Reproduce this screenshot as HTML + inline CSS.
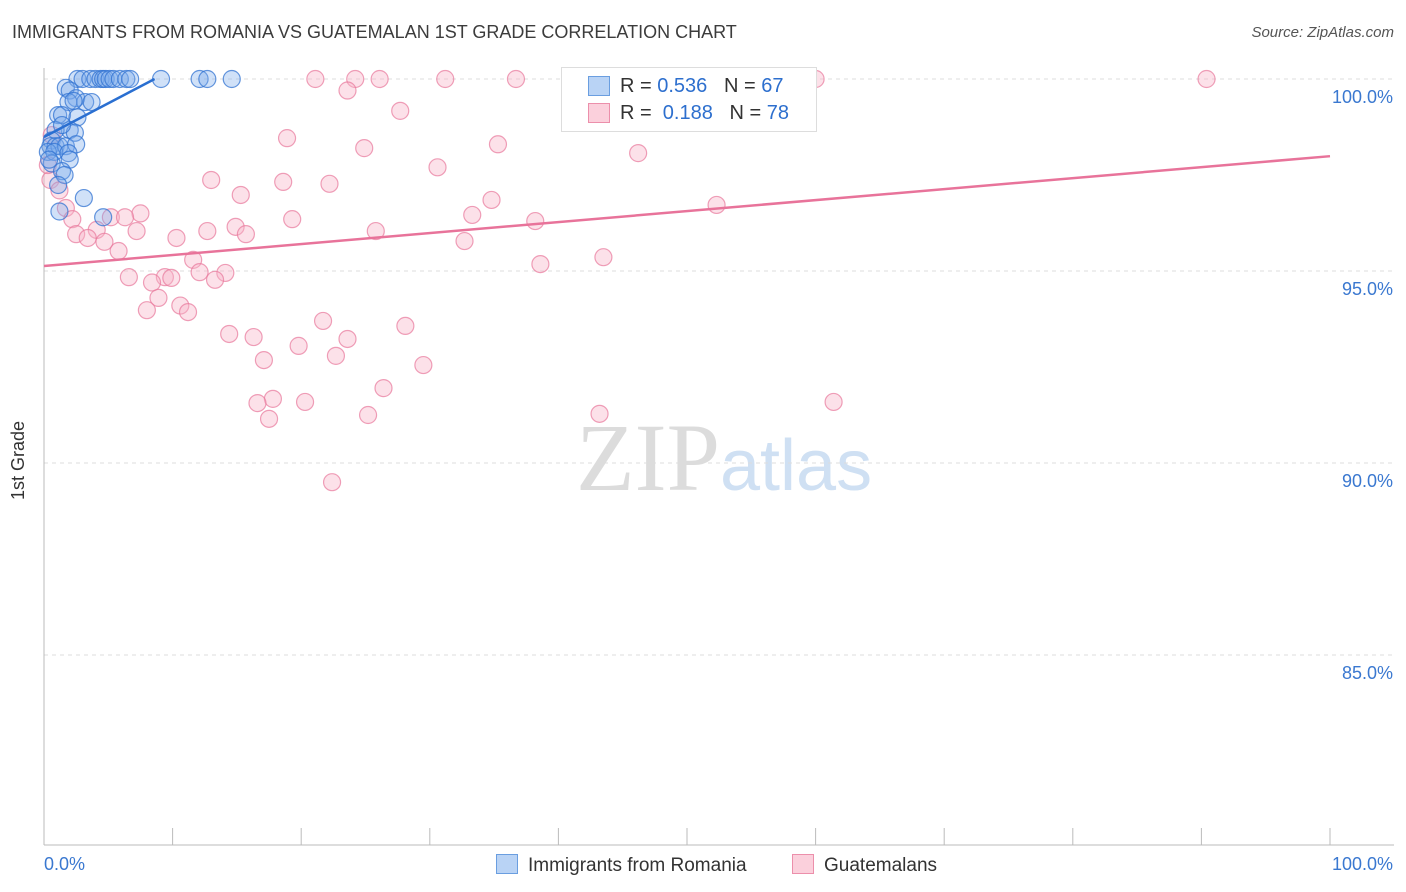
<!DOCTYPE html>
<html><head><meta charset="utf-8"><style>
body{margin:0;background:#fff;font-family:"Liberation Sans",sans-serif;}
#c{position:relative;width:1406px;height:892px;overflow:hidden}
.t{position:absolute;white-space:nowrap}
</style></head><body><div id="c">
<div class="t" style="left:12px;top:22px;font-size:18px;color:#3c3c3c">IMMIGRANTS FROM ROMANIA VS GUATEMALAN 1ST GRADE CORRELATION CHART</div>
<div class="t" style="right:12px;top:24px;font-size:15px;color:#555;font-style:italic">Source: ZipAtlas.com</div>
<div class="t" style="left:8px;top:455px;font-size:18px;color:#333;transform:rotate(-90deg);transform-origin:left top;top:500px">1st Grade</div>
<svg id="s" width="1406" height="892" style="position:absolute;left:0;top:0">
<text x="720" y="490" font-size="96" font-family="Liberation Serif" fill="#dcdcdc" text-anchor="end">ZIP</text>
<text x="720" y="490" font-size="72" font-family="Liberation Sans" fill="#cfe0f3">atlas</text>
</svg>
<div class="t" style="left:561px;top:67px;width:254px;height:63px;border:1px solid #ddd;background:#fff">
<div style="position:absolute;left:26px;top:8px;width:20px;height:18px;background:#b9d3f5;border:1px solid #6a9ee0"></div>
<div class="t" style="left:58px;top:7px;font-size:20px;color:#333">R = <span style="color:#2d6fce">0.536</span>&nbsp;&nbsp;&nbsp;N = <span style="color:#2d6fce">67</span></div>
<div style="position:absolute;left:26px;top:35px;width:20px;height:18px;background:#fbd0dc;border:1px solid #ec8fab"></div>
<div class="t" style="left:58px;top:34px;font-size:20px;color:#333">R = &nbsp;<span style="color:#2d6fce">0.188</span>&nbsp;&nbsp;&nbsp;N = <span style="color:#2d6fce">78</span></div>
</div>
<div class="t" style="left:496px;top:854px;font-size:19px;color:#333"><span style="display:inline-block;width:20px;height:18px;background:#b9d3f5;border:1px solid #6a9ee0;vertical-align:-3px;margin-right:10px"></span>Immigrants from Romania</div>
<div class="t" style="left:792px;top:854px;font-size:19px;color:#333"><span style="display:inline-block;width:20px;height:18px;background:#fbd0dc;border:1px solid #ec8fab;vertical-align:-3px;margin-right:10px"></span>Guatemalans</div>
</div>
<script>
const yTicks=[100,95,90,85];
const yTickLabels=["100.0%","95.0%","90.0%","85.0%"];
const xTickLabels=["0.0%","100.0%"];
const blueX=[2.6,3.0,3.6,4.0,4.4,4.6,4.8,5.1,5.4,5.9,6.4,6.7,9.1,12.1,12.7,14.6,1.7,2.0,2.5,3.2,3.7,1.9,2.3,1.1,1.4,2.6,2.0,2.4,0.9,1.4,0.6,0.5,0.9,1.2,1.7,2.5,0.3,0.8,1.9,2.0,0.6,1.4,1.6,1.1,3.1,1.2,4.6,0.4];
const blueY=[100,100,100,100,100,100,100,100,100,100,100,100,100,100,100,100,99.77,99.7,99.5,99.4,99.4,99.4,99.43,99.06,99.06,99.0,98.67,98.6,98.67,98.8,98.4,98.25,98.25,98.25,98.25,98.3,98.1,98.1,98.07,97.9,97.8,97.6,97.5,97.24,96.9,96.55,96.4,97.9];
const pinkX=[21.1,24.2,26.1,31.2,36.7,58.8,60.0,90.4,23.6,27.7,18.9,35.3,24.9,46.2,30.6,13.0,18.6,22.2,15.3,34.8,52.3,1.7,7.5,33.3,19.3,5.2,6.3,38.2,2.2,14.9,12.7,25.8,7.2,4.1,15.7,2.5,3.4,10.3,4.7,32.7,5.8,43.5,11.6,38.6,12.1,14.1,6.6,9.4,9.9,13.3,8.4,8.9,10.6,8.0,11.2,21.7,28.1,14.4,16.3,23.6,19.8,22.7,17.1,29.5,26.4,17.8,16.6,20.3,61.4,43.2,25.2,17.5,22.4,0.5,1.2,0.3,0.6];
const pinkY=[100,100,100,100,100,100,100,100,99.7,99.17,98.46,98.3,98.2,98.07,97.7,97.37,97.32,97.27,96.98,96.85,96.72,96.64,96.5,96.46,96.35,96.4,96.4,96.3,96.35,96.15,96.04,96.04,96.04,96.07,95.96,95.96,95.86,95.86,95.76,95.78,95.52,95.36,95.29,95.18,94.97,94.95,94.84,94.84,94.82,94.77,94.7,94.3,94.1,93.98,93.93,93.7,93.57,93.36,93.28,93.23,93.05,92.79,92.68,92.55,91.95,91.67,91.56,91.59,91.59,91.28,91.25,91.15,89.5,97.37,97.1,97.76,98.54];
const blueLine=[[0,98.49],[8.6,100]];
const pinkLine=[[0,95.13],[100,97.99]];
const X=v=>44+v*12.86, Y=v=>79+(100-v)*38.4;
const s=document.getElementById('s'),NS='http://www.w3.org/2000/svg';
function mk(t,a){const e=document.createElementNS(NS,t);for(const k in a)e.setAttribute(k,a[k]);s.appendChild(e);return e;}
yTicks.forEach((v,i)=>{
 const g=mk('line',{x1:44,x2:1394,y1:Y(v),y2:Y(v),stroke:'#ddd','stroke-dasharray':'4,4'});
 
 
 const t=mk('text',{x:1393,y:Y(v)+24,'text-anchor':'end','font-size':18,fill:'#3a78d0'});
 t.textContent=yTickLabels[i];
 
 
});
const ax=mk('line',{x1:44,x2:1394,y1:845,y2:845,stroke:'#bbb'});


const ay=mk('line',{x1:44,x2:44,y1:68,y2:845,stroke:'#bbb'});


for(let i=0;i<=10;i++){const tk=mk('line',{x1:X(i*10),x2:X(i*10),y1:828,y2:845,stroke:'#bbb'});
 
 }
[[0,'start',44],[100,'end',1393]].forEach((d,i)=>{const t=mk('text',{x:d[2],y:870,'text-anchor':d[1],'font-size':18,fill:'#3a78d0'});t.textContent=xTickLabels[i];
 
 });
pinkX.forEach((v,i)=>{const c=mk('circle',{cx:X(v),cy:Y(pinkY[i]),r:8.5,fill:'rgba(248,180,200,0.4)',stroke:'rgba(232,120,155,0.7)','stroke-width':1.2});
 
 });
blueX.forEach((v,i)=>{const c=mk('circle',{cx:X(v),cy:Y(blueY[i]),r:8.5,fill:'rgba(120,170,235,0.35)',stroke:'rgba(50,115,210,0.75)','stroke-width':1.2});
 
 });
const pl=mk('line',{x1:X(pinkLine[0][0]),y1:Y(pinkLine[0][1]),x2:X(pinkLine[1][0]),y2:Y(pinkLine[1][1]),stroke:'#e8739a','stroke-width':2.5});


const bl=mk('line',{x1:X(blueLine[0][0]),y1:Y(blueLine[0][1]),x2:X(blueLine[1][0]),y2:Y(blueLine[1][1]),stroke:'#2a6fd1','stroke-width':2.5});


</script></body></html>
